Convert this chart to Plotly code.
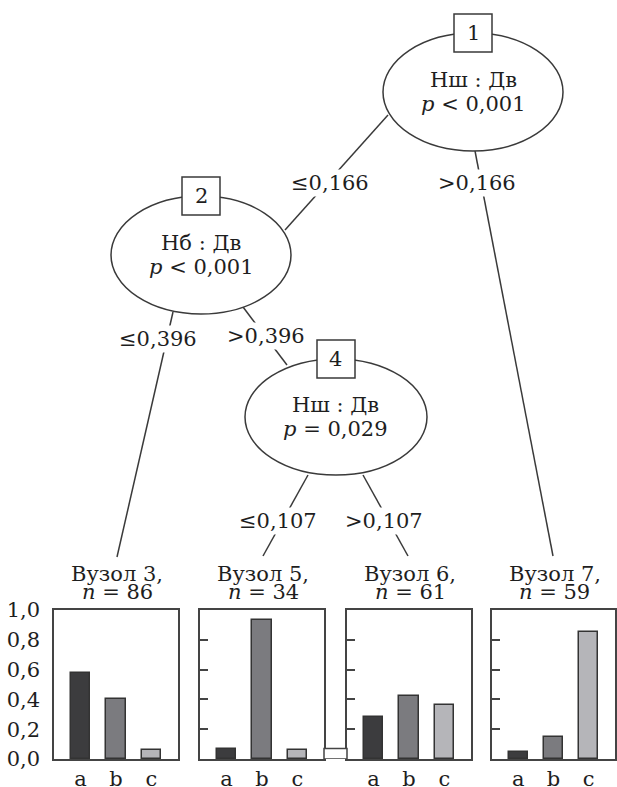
import plotly.graph_objects as go

W, H = 617, 787
FONT = "DejaVu Serif"
FS = 21
DARK = "#3a3a3a"
TXT = "#1e1e1e"

# ---- data ----
categories = ["a", "b", "c"]
node3_vals = [0.58, 0.40, 0.06]
node5_vals = [0.07, 0.93, 0.06]
node6_vals = [0.28, 0.42, 0.36]
node7_vals = [0.05, 0.15, 0.85]
leaf_ids = [3, 5, 6, 7]
leaf_n = [86, 34, 61, 59]
leaf_vals = [node3_vals, node5_vals, node6_vals, node7_vals]
bar_colors = ["#3c3c3e", "#7b7b7f", "#b5b5b9"]
ytick_vals = [0.0, 0.2, 0.4, 0.6, 0.8, 1.0]
ytick_text = ["0,0", "0,2", "0,4", "0,6", "0,8", "1,0"]

inner_nodes = [1, 2, 4]
inner_var = ["Нш : Дв", "Нб : Дв", "Нш : Дв"]
inner_p = ["<i>p</i> < 0,001", "<i>p</i> < 0,001", "<i>p</i> = 0,029"]
split_labels = ["≤0,166", ">0,166", "≤0,396", ">0,396", "≤0,107", ">0,107"]

# ---- layout geometry (pixels) ----
def px(x):
    return x / W

def py(y):
    return 1 - y / H

panel_x = [(54, 178), (200, 324), (347, 471), (492, 615)]
panel_top, panel_bot = 610, 759

fig = go.Figure()
for i, (vals, (x0, x1)) in enumerate(zip(leaf_vals, panel_x)):
    k = "" if i == 0 else str(i + 1)
    fig.add_trace(go.Bar(
        x=categories, y=vals, width=0.56,
        marker=dict(color=bar_colors, line=dict(color="#333333", width=1.5)),
        xaxis="x" + k, yaxis="y" + k, showlegend=False, hoverinfo="skip",
    ))
    fig.layout["xaxis" + k] = dict(
        domain=[px(x0), px(x1)], anchor="y" + k, range=[-0.75, 2.75],
        type="category", showline=True, mirror=True, linecolor="#444444",
        linewidth=1.5, ticks="", showgrid=False, zeroline=False, automargin=False,
        tickfont=dict(family=FONT, size=FS, color=TXT), ticklabelstandoff=0,
    )
    ydict = dict(
        domain=[py(panel_bot), py(panel_top)], anchor="x" + k, range=[0, 1],
        showline=True, mirror=True, linecolor="#444444", linewidth=1.5,
        showgrid=False, zeroline=False, tickvals=ytick_vals, ticktext=ytick_text,
        tickfont=dict(family=FONT, size=FS, color=TXT), automargin=False,
    )
    if i == 0:
        ydict.update(ticks="", showticklabels=True, ticklabelstandoff=8)
    else:
        ydict.update(ticks="inside", ticklen=8, tickwidth=1.5, tickcolor="#444444",
                     showticklabels=False)
    fig.layout["yaxis" + k] = ydict

shapes = []
annotations = []
line_style = dict(color=DARK, width=1.5)


def text_ann(txt, x, y, **kw):
    d = dict(text=txt, x=px(x), y=py(y), xref="paper", yref="paper",
             xanchor="center", yanchor="middle", showarrow=False,
             font=dict(family=FONT, size=FS, color=TXT))
    d.update(kw)
    return d

# edges
edges = [((388, 115), (285, 230)),
         ((475, 151), (553, 556)),
         ((173, 312), (117, 557)),
         ((243, 307), (287, 365)),
         ((308, 475), (263, 556)),
         ((363, 475), (408, 556))]
for (xa, ya), (xb, yb) in edges:
    shapes.append(dict(type="line", xref="paper", yref="paper",
                       x0=px(xa), y0=py(ya), x1=px(xb), y1=py(yb), line=line_style))

# inner nodes: ellipse + numbered box + text
ell = [(473, 92, 90, 59), (201, 255, 90, 59), (336, 417, 91, 58)]
for nid, var, p, (cx, cy, rx, ry) in zip(inner_nodes, inner_var, inner_p, ell):
    shapes.append(dict(type="circle", xref="paper", yref="paper",
                       x0=px(cx - rx), x1=px(cx + rx), y0=py(cy + ry), y1=py(cy - ry),
                       line=line_style, fillcolor="white"))
    bt = cy - ry
    shapes.append(dict(type="rect", xref="paper", yref="paper",
                       x0=px(cx - 19), x1=px(cx + 19), y0=py(bt + 19), y1=py(bt - 19),
                       line=line_style, fillcolor="white"))
    annotations.append(text_ann(str(nid), cx, bt))
    annotations.append(text_ann(var, cx, cy - 12))
    annotations.append(text_ann(p, cx, cy + 12))

# split labels
label_pos = [(330, 183), (477, 183), (158, 339), (266, 336), (278, 521), (384, 521)]
for txt, (lx, ly) in zip(split_labels, label_pos):
    annotations.append(text_ann(txt, lx, ly, bgcolor="white", borderpad=1))

# leaf titles
for nid, n, (x0, x1) in zip(leaf_ids, leaf_n, panel_x):
    cx = (x0 + x1) / 2 + 1
    annotations.append(text_ann(f"Вузол {nid},", cx, 574))
    annotations.append(text_ann(f"<i>n</i> = {n}", cx, 592))

# small stray box between panels 5 and 6 (as in reference)
shapes.append(dict(type="rect", xref="paper", yref="y2",
                   x0=px(panel_x[1][1]), x1=px(panel_x[2][0]), y0=0, y1=node5_vals[0],
                   line=dict(color="#444444", width=1.5), fillcolor="white"))

fig.update_layout(
    width=W, height=H, margin=dict(l=0, r=0, t=0, b=0, autoexpand=False),
    paper_bgcolor="white", plot_bgcolor="white",
    shapes=shapes, annotations=annotations, bargap=0,
)
fig.write_html("out.html")
